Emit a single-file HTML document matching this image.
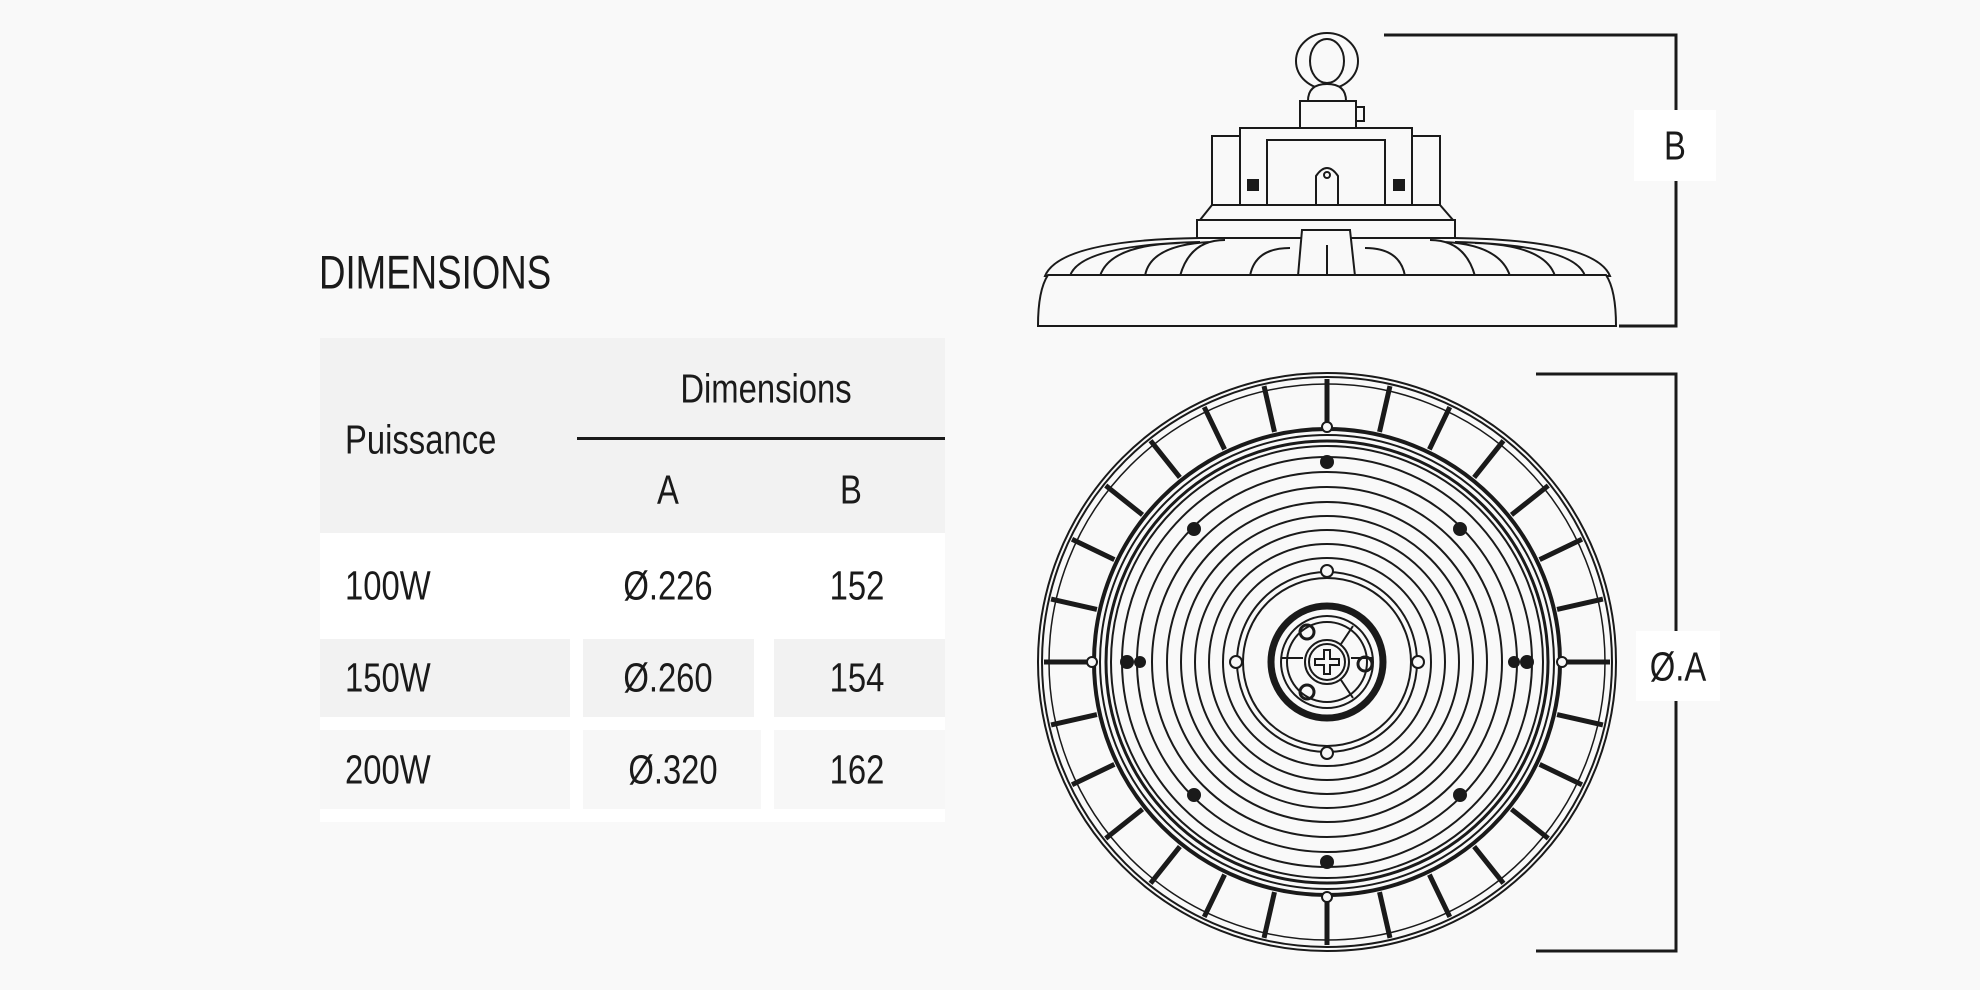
<!DOCTYPE html>
<html><head><meta charset="utf-8"><style>
html,body{margin:0;padding:0;background:#f9f9f9;}
body{width:1980px;height:990px;position:relative;overflow:hidden;font-family:"Liberation Sans",sans-serif;color:#1a1a1a;}
.a{position:absolute;}
.t{position:absolute;font-size:41px;line-height:1;white-space:nowrap;transform:translate(-50%,-50%) scaleX(0.8);}
.l{position:absolute;font-size:41px;line-height:1;white-space:nowrap;transform:translateY(-50%) scaleX(0.8);transform-origin:0 50%;}
</style></head><body>
<div class="l" style="left:319px;top:272px;font-size:47px;transform:translateY(-50%) scaleX(0.78);">DIMENSIONS</div>
<div class="a" style="left:320px;top:338px;width:625px;height:195px;background:#f2f2f2"></div>
<div class="a" style="left:320px;top:533px;width:625px;height:106px;background:#fff"></div>
<div class="a" style="left:320px;top:639px;width:625px;height:91px;background:#fff"></div>
<div class="a" style="left:320px;top:639px;width:250px;height:78px;background:#f2f2f2"></div>
<div class="a" style="left:583px;top:639px;width:171px;height:78px;background:#f2f2f2"></div>
<div class="a" style="left:774px;top:639px;width:171px;height:78px;background:#f2f2f2"></div>
<div class="a" style="left:320px;top:730px;width:625px;height:92px;background:#fff"></div>
<div class="a" style="left:320px;top:730px;width:250px;height:79px;background:#f7f7f7"></div>
<div class="a" style="left:583px;top:730px;width:178px;height:79px;background:#f7f7f7"></div>
<div class="a" style="left:774px;top:730px;width:171px;height:79px;background:#f7f7f7"></div>
<div class="a" style="left:577px;top:437px;width:368px;height:3px;background:#1a1a1a"></div>
<div class="t" style="left:766px;top:389px;">Dimensions</div>
<div class="l" style="left:345px;top:440px;">Puissance</div>
<div class="t" style="left:668px;top:490px;">A</div>
<div class="t" style="left:851px;top:490px;">B</div>
<div class="l" style="left:345px;top:586px;">100W</div>
<div class="t" style="left:668px;top:586px;">Ø.226</div>
<div class="t" style="left:857px;top:586px;">152</div>
<div class="l" style="left:345px;top:678px;">150W</div>
<div class="t" style="left:668px;top:678px;">Ø.260</div>
<div class="t" style="left:857px;top:678px;">154</div>
<div class="l" style="left:345px;top:770px;">200W</div>
<div class="t" style="left:673px;top:770px;">Ø.320</div>
<div class="t" style="left:857px;top:770px;">162</div>

<svg class="a" style="left:0;top:0" width="1980" height="990" fill="none" stroke="#1a1a1a">
<polyline points="1384,35 1676,35 1676,326 1619,326" stroke-width="3"/>
<polyline points="1536,374 1676,374 1676,951 1536,951" stroke-width="3"/>
<rect x="1634" y="110" width="82" height="71" fill="#fff" stroke="none"/>
<rect x="1636" y="631" width="84" height="70" fill="#fff" stroke="none"/>
<g stroke-width="2" fill="#f9f9f9">
<ellipse cx="1327" cy="61" rx="31" ry="28"/>
<ellipse cx="1327" cy="61" rx="17" ry="22"/>
<path d="M1308,101 Q1308,84 1327,84 Q1346,84 1346,101 Z"/>
<rect x="1300" y="101" width="56" height="30"/>
<rect x="1356" y="107" width="8" height="14"/>
<rect x="1212" y="136" width="228" height="72"/>
<rect x="1240" y="128" width="172" height="80"/>
<rect x="1267" y="140" width="118" height="68"/>
<path d="M1316,208 L1316,176 Q1327,160 1338,176 L1338,208"/>
<circle cx="1327" cy="175" r="3"/>
<rect x="1248" y="180" width="10" height="10" fill="#1a1a1a"/>
<rect x="1394" y="180" width="10" height="10" fill="#1a1a1a"/>
<path d="M1200,220 L1212,205 L1440,205 L1453,220 Z"/>
<rect x="1197" y="220" width="258" height="36"/>
<path d="M1045,276 Q1060,240 1200,238 L1454,238 Q1595,240 1610,276 Z"/>
<path d="M1070,276 Q1080,245 1200,242 M1100,276 Q1110,245 1180,243 M1145,276 Q1150,245 1210,242 M1180,276 Q1190,240 1225,240 M1250,276 Q1255,248 1290,248 M1405,276 Q1400,248 1365,248 M1475,276 Q1465,240 1430,240 M1510,276 Q1500,245 1445,242 M1555,276 Q1545,245 1475,243 M1585,276 Q1575,245 1455,242" fill="none"/>
<path d="M1298,276 L1302,230 L1350,230 L1355,276" />
<line x1="1327" y1="245" x2="1327" y2="276"/>
<path d="M1038,326 Q1038,290 1048,275 L1606,275 Q1616,290 1616,326 Z"/>
</g>
<g transform="translate(1327,662)" stroke-width="2">
<circle r="289"/><circle r="285"/><circle r="278" stroke-width="1.5"/>
<circle r="233" stroke-width="4"/><circle r="227"/><circle r="221" stroke-width="3"/><circle r="216"/>
<circle r="205"/><circle r="190"/><circle r="175"/><circle r="160"/><circle r="146"/><circle r="132"/><circle r="118"/><circle r="104"/><circle r="90"/><circle r="84"/>
<g stroke-width="5">
<line y1="-236" y2="-283" transform="rotate(0)"/><line y1="-236" y2="-283" transform="rotate(12.857)"/><line y1="-236" y2="-283" transform="rotate(25.714)"/><line y1="-236" y2="-283" transform="rotate(38.571)"/><line y1="-236" y2="-283" transform="rotate(51.429)"/><line y1="-236" y2="-283" transform="rotate(64.286)"/><line y1="-236" y2="-283" transform="rotate(77.143)"/><line y1="-236" y2="-283" transform="rotate(90)"/><line y1="-236" y2="-283" transform="rotate(102.857)"/><line y1="-236" y2="-283" transform="rotate(115.714)"/><line y1="-236" y2="-283" transform="rotate(128.571)"/><line y1="-236" y2="-283" transform="rotate(141.429)"/><line y1="-236" y2="-283" transform="rotate(154.286)"/><line y1="-236" y2="-283" transform="rotate(167.143)"/><line y1="-236" y2="-283" transform="rotate(180)"/><line y1="-236" y2="-283" transform="rotate(192.857)"/><line y1="-236" y2="-283" transform="rotate(205.714)"/><line y1="-236" y2="-283" transform="rotate(218.571)"/><line y1="-236" y2="-283" transform="rotate(231.429)"/><line y1="-236" y2="-283" transform="rotate(244.286)"/><line y1="-236" y2="-283" transform="rotate(257.143)"/><line y1="-236" y2="-283" transform="rotate(270)"/><line y1="-236" y2="-283" transform="rotate(282.857)"/><line y1="-236" y2="-283" transform="rotate(295.714)"/><line y1="-236" y2="-283" transform="rotate(308.571)"/><line y1="-236" y2="-283" transform="rotate(321.429)"/><line y1="-236" y2="-283" transform="rotate(334.286)"/><line y1="-236" y2="-283" transform="rotate(347.143)"/>
</g>
<g fill="#f9f9f9">
<circle cx="0" cy="-235" r="5"/><circle cx="0" cy="235" r="5"/><circle cx="-235" cy="0" r="5"/><circle cx="235" cy="0" r="5"/>
<circle cx="0" cy="-91" r="6"/><circle cx="0" cy="91" r="6"/><circle cx="-91" cy="0" r="6"/><circle cx="91" cy="0" r="6"/>
</g>
<g fill="#1a1a1a">
<circle cx="0" cy="-200" r="6"/><circle cx="0" cy="200" r="6"/><circle cx="-200" cy="0" r="6"/><circle cx="200" cy="0" r="6"/>
<circle cx="-133" cy="-133" r="6"/><circle cx="133" cy="-133" r="6"/><circle cx="-133" cy="133" r="6"/><circle cx="133" cy="133" r="6"/>
<circle cx="-187" cy="0" r="5"/><circle cx="187" cy="0" r="5"/>
</g>
<circle r="56" stroke-width="7"/><circle r="46"/><circle r="40"/>
<circle r="22"/><circle r="18"/>
<line x1="-24" y1="-4" x2="-46" y2="-4"/><line x1="24" y1="-4" x2="46" y2="-4"/>
<line x1="14" y1="-18" x2="26" y2="-36"/><line x1="14" y1="18" x2="26" y2="36"/>
<circle cx="-20" cy="-30" r="7" stroke-width="3"/><circle cx="-20" cy="30" r="7" stroke-width="3"/><circle cx="38" cy="2" r="7" stroke-width="3"/>
<path d="M-3,-12 H3 V-3 H12 V3 H3 V12 H-3 V3 H-12 V-3 H-3 Z"/>
</g>
</svg>
<div class="t" style="left:1675px;top:146px;">B</div>
<div class="t" style="left:1678px;top:667px;">Ø.A</div>
</body></html>
